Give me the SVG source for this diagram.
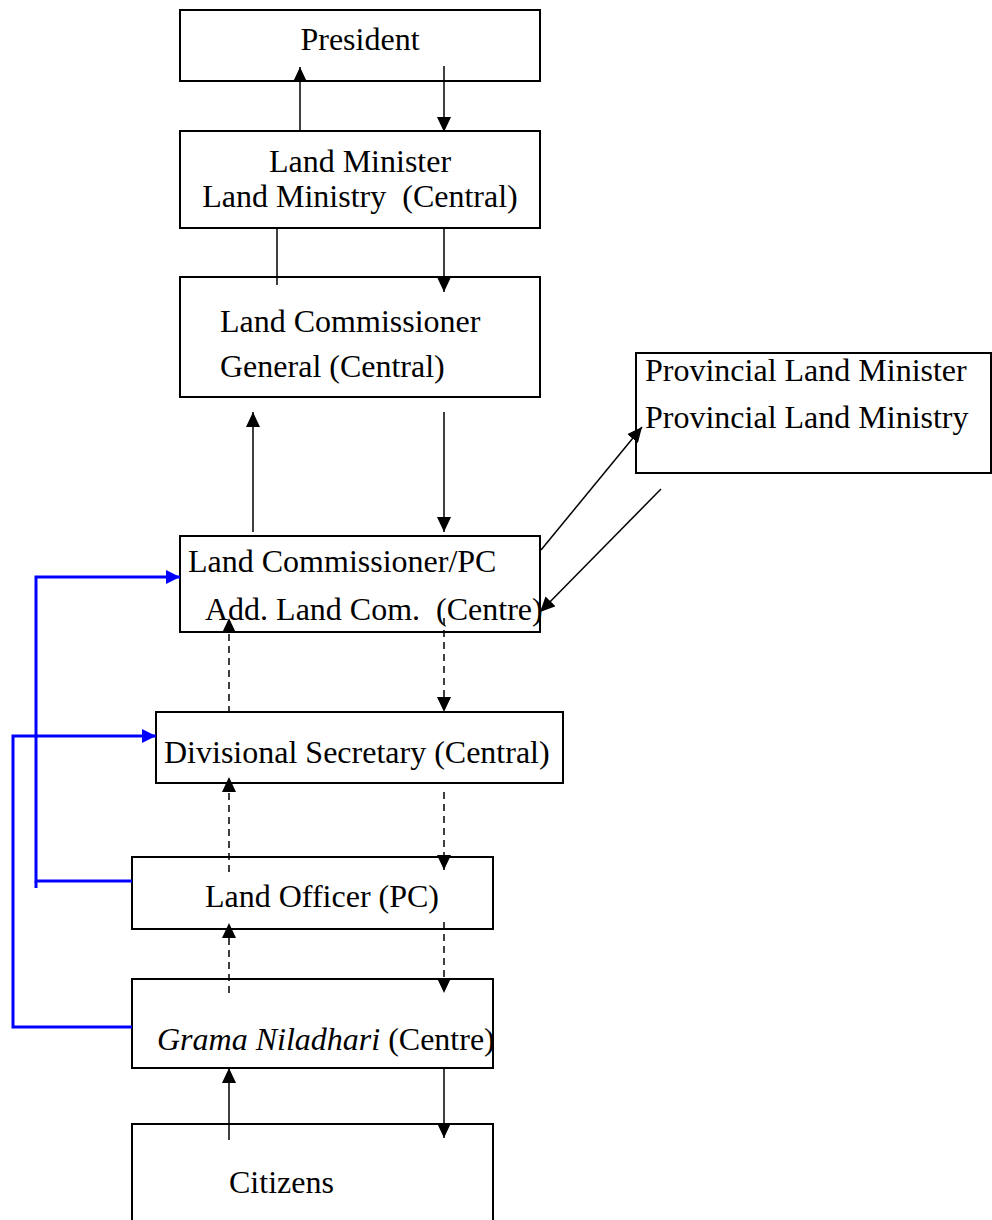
<svg xmlns="http://www.w3.org/2000/svg" width="992" height="1220" viewBox="0 0 992 1220">
<style>
.box{fill:#fff;stroke:#000;stroke-width:2}
.t{font-family:"Liberation Serif","Times New Roman",serif;font-size:32px;fill:#000}
.c{stroke:#000;stroke-width:1.5;fill:none}
.d{stroke:#000;stroke-width:1.5;fill:none;stroke-dasharray:7,5}
.b{stroke:#0000ff;stroke-width:3;fill:none}
</style>
<defs>
<marker id="ah" markerUnits="userSpaceOnUse" markerWidth="15" markerHeight="14" viewBox="0 0 15 14" refX="15" refY="7" orient="auto">
<path d="M0,0 L15,7 L0,14 z" fill="#000"/>
</marker>
<marker id="ahb" markerUnits="userSpaceOnUse" markerWidth="14" markerHeight="14" viewBox="0 0 14 14" refX="14" refY="7" orient="auto">
<path d="M0,0 L14,7 L0,14 z" fill="#0000ff"/>
</marker>
</defs>

<g id="president">
<rect class="box" x="180" y="10" width="360" height="71"/>
<text class="t" x="360" y="50" text-anchor="middle">President</text>
</g>
<g id="land-minister">
<rect class="box" x="180" y="131" width="360" height="97"/>
<text class="t" x="360" y="172" text-anchor="middle">Land Minister</text>
<text class="t" x="360" y="207" text-anchor="middle" xml:space="preserve">Land Ministry  (Central)</text>
</g>
<g id="lcg">
<rect class="box" x="180" y="277" width="360" height="120"/>
<text class="t" x="220" y="332">Land Commissioner</text>
<text class="t" x="220" y="377">General (Central)</text>
</g>
<g id="provincial">
<rect class="box" x="636" y="353" width="355" height="120"/>
<text class="t" x="645" y="381">Provincial Land Minister</text>
<text class="t" x="645" y="428">Provincial Land Ministry</text>
</g>
<g id="lcpc">
<rect class="box" x="180" y="536" width="360" height="96"/>
<text class="t" x="188" y="572">Land Commissioner/PC</text>
<text class="t" x="205" y="620" xml:space="preserve">Add. Land Com.  (Centre)</text>
</g>
<g id="ds">
<rect class="box" x="156" y="712" width="407" height="71"/>
<text class="t" x="164" y="763">Divisional Secretary (Central)</text>
</g>
<g id="lo">
<rect class="box" x="132" y="857" width="361" height="72"/>
<text class="t" x="205" y="907">Land Officer (PC)</text>
</g>
<g id="gn">
<rect class="box" x="132" y="979" width="361" height="89"/>
<text class="t" x="157" y="1050"><tspan font-style="italic">Grama Niladhari</tspan> (Centre)</text>
</g>
<g id="citizens">
<path class="box" d="M132,1222 V1124 H493 V1222"/>
<text class="t" x="229" y="1193">Citizens</text>
</g>

<g id="connectors">
<line class="c" x1="300" y1="131" x2="300" y2="67" marker-end="url(#ah)"/>
<line class="c" x1="444" y1="66" x2="444" y2="132" marker-end="url(#ah)"/>
<line class="c" x1="277" y1="228" x2="277" y2="285"/>
<line class="c" x1="444" y1="228" x2="444" y2="292" marker-end="url(#ah)"/>
<line class="c" x1="253" y1="532" x2="253" y2="412" marker-end="url(#ah)"/>
<line class="c" x1="444" y1="412" x2="444" y2="532" marker-end="url(#ah)"/>
<line class="c" x1="541" y1="550" x2="642" y2="427" marker-end="url(#ah)"/>
<line class="c" x1="661" y1="489" x2="540" y2="612" marker-end="url(#ah)"/>
<line class="d" x1="229" y1="713" x2="229" y2="618" marker-end="url(#ah)"/>
<line class="d" x1="444" y1="618" x2="444" y2="712" marker-end="url(#ah)"/>
<line class="d" x1="229" y1="872" x2="229" y2="777" marker-end="url(#ah)"/>
<line class="d" x1="444" y1="792" x2="444" y2="870" marker-end="url(#ah)"/>
<line class="d" x1="229" y1="993" x2="229" y2="923" marker-end="url(#ah)"/>
<line class="d" x1="444" y1="922" x2="444" y2="993" marker-end="url(#ah)"/>
<line class="c" x1="229" y1="1140" x2="229" y2="1068" marker-end="url(#ah)"/>
<line class="c" x1="444" y1="1068" x2="444" y2="1138" marker-end="url(#ah)"/>
<path class="b" d="M132,881 H36 V577 H180" marker-end="url(#ahb)"/>
<line class="b" x1="36" y1="881" x2="36" y2="888"/>
<path class="b" d="M132,1027 H13 V736 H156" marker-end="url(#ahb)"/>
</g>
</svg>
